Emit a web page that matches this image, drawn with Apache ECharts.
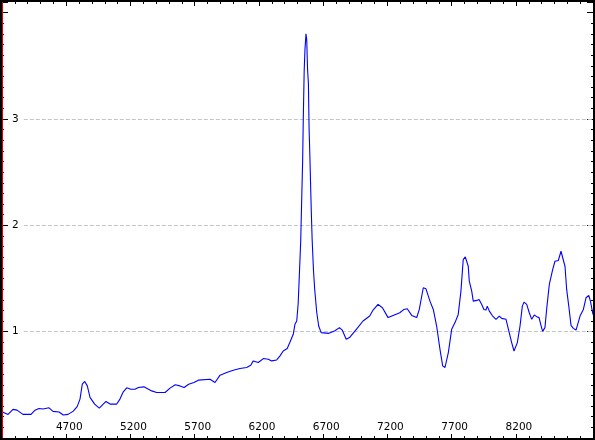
<!DOCTYPE html>
<html><head><meta charset="utf-8">
<script src="https://cdn.jsdelivr.net/npm/echarts@6/dist/echarts.min.js"></script>
<style>html,body{margin:0;padding:0;background:#fff}#c{width:595px;height:440px}</style>
</head><body><div id="c"></div>
<script>
const wavelength = [4200,4247,4286,4317,4363,4426,4457,4488,4519,4566,4597,4644,4677,4714,4755,4786,4807,4825,4844,4864,4885,4921,4957,4988,5009,5041,5093,5118,5144,5171,5202,5235,5261,5305,5365,5404,5469,5508,5549,5585,5617,5653,5694,5728,5741,5819,5858,5897,5949,6000,6052,6104,6136,6156,6195,6234,6273,6299,6338,6364,6389,6420,6441,6467,6480,6494,6505,6514,6525,6533,6540,6545,6552,6558,6566,6572,6578,6585,6590,6595,6601,6607,6614,6624,6634,6650,6665,6684,6697,6744,6788,6827,6848,6879,6905,6958,7010,7062,7088,7127,7161,7205,7244,7296,7329,7354,7389,7428,7448,7479,7500,7531,7557,7583,7609,7630,7648,7674,7700,7726,7751,7772,7790,7806,7829,7837,7856,7868,7895,7913,7934,7951,7967,7977,7993,8019,8045,8071,8089,8123,8148,8167,8185,8211,8232,8250,8263,8284,8304,8323,8343,8362,8380,8393,8408,8426,8439,8460,8486,8504,8530,8551,8564,8582,8595,8613,8629,8647,8668,8699,8725,8746,8767,8780,8800];
const flux = [0.247,0.222,0.269,0.262,0.222,0.222,0.262,0.278,0.272,0.284,0.250,0.244,0.216,0.222,0.253,0.297,0.366,0.506,0.532,0.490,0.382,0.319,0.281,0.319,0.344,0.319,0.319,0.366,0.434,0.472,0.459,0.459,0.475,0.481,0.443,0.428,0.428,0.469,0.500,0.490,0.475,0.506,0.522,0.544,0.547,0.553,0.522,0.591,0.616,0.637,0.653,0.663,0.684,0.725,0.710,0.747,0.741,0.725,0.734,0.772,0.818,0.841,0.900,0.975,1.069,1.100,1.260,1.520,1.850,2.260,2.600,3.000,3.450,3.650,3.800,3.740,3.475,3.330,2.918,2.710,2.428,2.147,1.866,1.584,1.397,1.178,1.053,0.991,0.978,0.984,1.006,1.038,1.015,0.928,0.944,1.022,1.100,1.147,1.203,1.256,1.225,1.132,1.153,1.178,1.209,1.216,1.153,1.132,1.209,1.413,1.403,1.287,1.209,1.053,0.834,0.678,0.663,0.803,1.022,1.085,1.162,1.381,1.678,1.703,1.615,1.475,1.381,1.287,1.294,1.303,1.256,1.209,1.203,1.240,1.193,1.147,1.116,1.147,1.125,1.116,0.991,0.897,0.818,0.897,1.053,1.240,1.278,1.256,1.178,1.116,1.156,1.141,1.132,1.069,1.003,1.038,1.209,1.444,1.584,1.662,1.669,1.756,1.750,1.615,1.397,1.225,1.059,1.031,1.015,1.147,1.209,1.319,1.341,1.287,1.160];
const xTickLabels = [4700,5200,5700,6200,6700,7200,7700,8200];
const yTickLabels = [1,2,3];

const X_MIN = 4200, X_MAX = 8800, Y_MIN = 0, Y_MAX = 4.1;
const gridStart = 4370;

const chart = echarts.init(document.getElementById('c'));
const fontFamily = 'DejaVu Sans';
function xAxisBase(pos, minor) {
  return {
    type: 'value', position: pos, min: X_MIN, max: X_MAX,
    interval: minor ? 100 : undefined,
    axisLine: {show: false},
    splitLine: {show: false},
    axisTick: minor ? {show: true, inside: true, length: 2, lineStyle: {color: '#000'}}
                    : {show: true, inside: true, length: 4, customValues: xTickLabels, lineStyle: {color: '#000'}},
    axisLabel: (!minor && pos === 'bottom') ? {show: true, inside: true, margin: 5, customValues: xTickLabels,
      color: '#000', fontFamily, fontSize: 10.5, padding: [0,0,0,6], formatter: v => String(v)} : {show: false}
  };
}
function yAxisBase(pos) {
  return {
    type: 'value', position: pos, min: Y_MIN, max: Y_MAX, interval: 1,
    axisLine: {show: false},
    splitLine: {show: false},
    axisTick: {show: true, inside: true, length: 6, lineStyle: {color: '#000'}},
    minorTick: {show: true, splitNumber: 10, length: 2, lineStyle: {color: '#000'}},
    axisLabel: pos === 'left' ? {show: true, inside: true, margin: 10, color: '#000', fontFamily, fontSize: 10.5,
      formatter: v => (yTickLabels.indexOf(v) >= 0 ? String(v) : '')} : {show: false}
  };
}
chart.setOption({
  animation: false,
  backgroundColor: '#fff',
  grid: {left: 2, right: 2, top: 2, bottom: 2, containLabel: false},
  xAxis: [xAxisBase('bottom', false), xAxisBase('bottom', true), xAxisBase('top', false), xAxisBase('top', true)],
  yAxis: [yAxisBase('left'), yAxisBase('right')],
  series: [{
    type: 'line',
    data: wavelength.map((w, i) => [w, flux[i]]),
    showSymbol: false,
    lineStyle: {color: '#0000ff', width: 1.1},
    itemStyle: {color: '#0000ff'},
    z: 3,
    markLine: {
      silent: true, symbol: 'none', label: {show: false},
      lineStyle: {type: [4, 2], color: '#c4c4c4', width: 1},
      data: yTickLabels.map(v => [{coord: [gridStart, v]}, {coord: [X_MAX, v]}]),
      z: 1
    }
  }],
  graphic: [{
    type: 'rect', z: 100, silent: true,
    shape: {x: 1, y: 1, width: 593, height: 438},
    style: {fill: 'none', stroke: '#000', lineWidth: 2}
  }, {
    type: 'line', z: 101, silent: true,
    shape: {x1: 2.5, y1: 2, x2: 2.5, y2: 438},
    style: {stroke: '#e00000', lineWidth: 1}
  }]
});
</script></body></html>
